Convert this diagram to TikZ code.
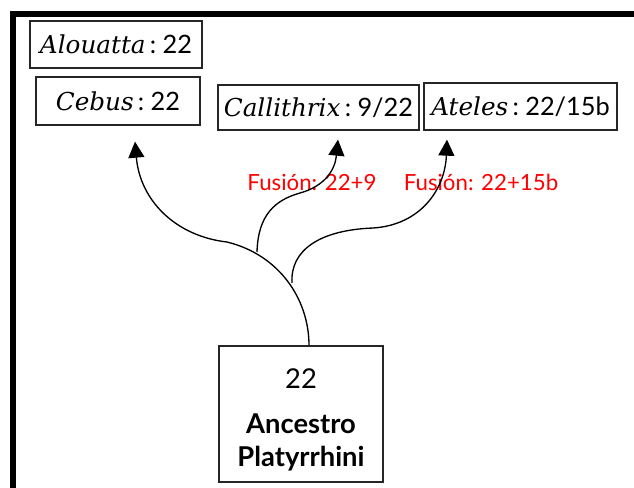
\documentclass[tikz,border=0pt]{standalone}
\usepackage{fontspec}
\newfontfamily\cs{Lato}
\newfontfamily\nm{DejaVu Serif}
\newcommand\gen[1]{{\nm\itshape\fontsize{18.5}{22}\selectfont #1}}
\usetikzlibrary{arrows.meta,calc}
\tikzset{
  lbl/.style={draw=black!85, line width=1pt, inner sep=0pt, align=center,
    font=\cs\fontsize{19}{23}\selectfont},
  fus/.style={text=red, inner sep=0pt, font=\cs\fontsize{16.7}{20}\selectfont},
  branch/.style={line width=1pt, -{Triangle[length=12pt,width=12pt]}},
}
\begin{document}
\begin{tikzpicture}[x=0.75pt,y=-0.75pt]
\useasboundingbox (0,0) rectangle (634,487);
\fill[white] (0,0) rectangle (634,487);
% frame
\draw[line width=4.5pt, line join=miter] (12.5,490) -- (12.5,13.5) -- (640,13.5);
% boxes
\node[lbl, minimum width=172*0.75pt, minimum height=47*0.75pt] (alo) at (116,44.5)
  {\gen{Alouatta}\,:\ 22};
\node[lbl, minimum width=164*0.75pt, minimum height=48*0.75pt] (ceb) at (118,101)
  {\gen{Cebus}\,:\ 22};
\node[lbl, minimum width=201*0.75pt, minimum height=45*0.75pt] (cal) at (318.5,107.5)
  {\gen{Callithrix}\,:\ 9/22};
\node[lbl, minimum width=193*0.75pt, minimum height=47*0.75pt] (ate) at (520.5,106.5)
  {\gen{Ateles}\,:\ 22/15b};
\node[lbl, minimum width=164*0.75pt, minimum height=136*0.75pt,
  font=\cs\bfseries\fontsize{20.5}{24.75}\selectfont] (anc) at (301,414)
  {\rule{0pt}{23pt}{\mdseries 22}\\[9pt]Ancestro\\Platyrrhini};
% fusion labels
\node[fus] (f1) at (312,182) {Fusión: 22+9};
\node[fus] (f2) at (481,182) {Fusión: 22+15b};
% junctions
\coordinate (root) at ($(anc.north)+(8,0)$);
\coordinate (j1) at (257,252);
\coordinate (j2) at (292,283);
\coordinate (tc) at ($(ceb.south)+(17,16)$);
\coordinate (tl) at ($(cal.south)+(19.5,9)$);
\coordinate (ta) at ($(ate.south)+(-73.5,9)$);
% curves
\draw[branch] (root) .. controls (309,300) and (280,255) .. (227,242)
  .. controls (175,236) and (140,200) .. (tc);
\draw[branch] (j1) .. controls (258,215) and (275,200) .. (300,193)
  .. controls (325,186) and (335,170) .. (tl);
\draw[branch] (j2) .. controls (290,250) and (320,230) .. (373,228)
  .. controls (420,225) and (445,190) .. (ta);
\end{tikzpicture}
\end{document}
